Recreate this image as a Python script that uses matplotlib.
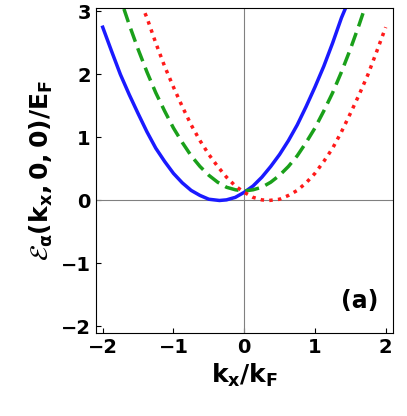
import matplotlib
matplotlib.use("Agg")
import matplotlib.pyplot as plt
plt.rcParams['mathtext.default'] = 'bf'

blue_x = [-2.0,-1.875,-1.75,-1.625,-1.5,-1.375,-1.25,-1.125,-1.0,-0.875,-0.75,-0.625,-0.5,-0.35,-0.25,-0.125,0.0,0.125,0.25,0.375,0.5,0.625,0.75,0.875,1.0,1.125,1.25,1.375,1.45]
blue_y = [2.75,2.37,2.0,1.68,1.38,1.09,0.83,0.62,0.43,0.28,0.16,0.08,0.02,0.0,0.01,0.05,0.13,0.23,0.37,0.54,0.73,0.95,1.2,1.49,1.8,2.13,2.5,2.9,3.1]
red_x = [-x for x in blue_x[::-1]]
red_y = blue_y[::-1]
green_x = [-1.7,-1.625,-1.5,-1.375,-1.25,-1.125,-1.0,-0.875,-0.75,-0.625,-0.5,-0.375,-0.25,-0.125,0.0,0.125,0.25,0.375,0.5,0.625,0.75,0.875,1.0,1.125,1.25,1.375,1.5,1.625,1.7]
green_y = [3.04,2.79,2.4,2.04,1.71,1.42,1.15,0.92,0.71,0.54,0.4,0.29,0.21,0.17,0.15,0.17,0.21,0.29,0.4,0.54,0.71,0.92,1.15,1.42,1.71,2.04,2.4,2.79,3.04]

fig = plt.figure(figsize=(4.07,4.16), dpi=100)
ax = fig.add_axes([0.235,0.2,0.73,0.78])
ax.axhline(0,color='gray',lw=0.8)
ax.axvline(0,color='gray',lw=0.8)
ax.plot(blue_x,blue_y,color='#1a1aff',lw=2.5)
ax.plot(green_x,green_y,color='#1aa01a',lw=2.5,ls=(0,(4,2)))
ax.plot(red_x,red_y,color='#ff1a1a',lw=2.5,ls=(0,(1,1.5)))
ax.set_xlim(-2.1,2.1)
ax.set_ylim(-2.1,3.05)
ax.set_xticks([-2,-1,0,1,2])
ax.set_yticks([-2,-1,0,1,2,3])
ax.tick_params(labelsize=14,direction='in')
for t in ax.get_xticklabels()+ax.get_yticklabels():
    t.set_fontweight('bold')
ax.set_xlabel(r'$k_x/k_F$',fontsize=18)
ax.set_ylabel(r'$\mathcal{E}_\alpha(k_x,0,0)/E_F$',fontsize=18)
ax.text(0.95,0.06,'(a)',transform=ax.transAxes,ha='right',va='bottom',fontsize=17,fontweight='bold')
fig.savefig('out.png')
